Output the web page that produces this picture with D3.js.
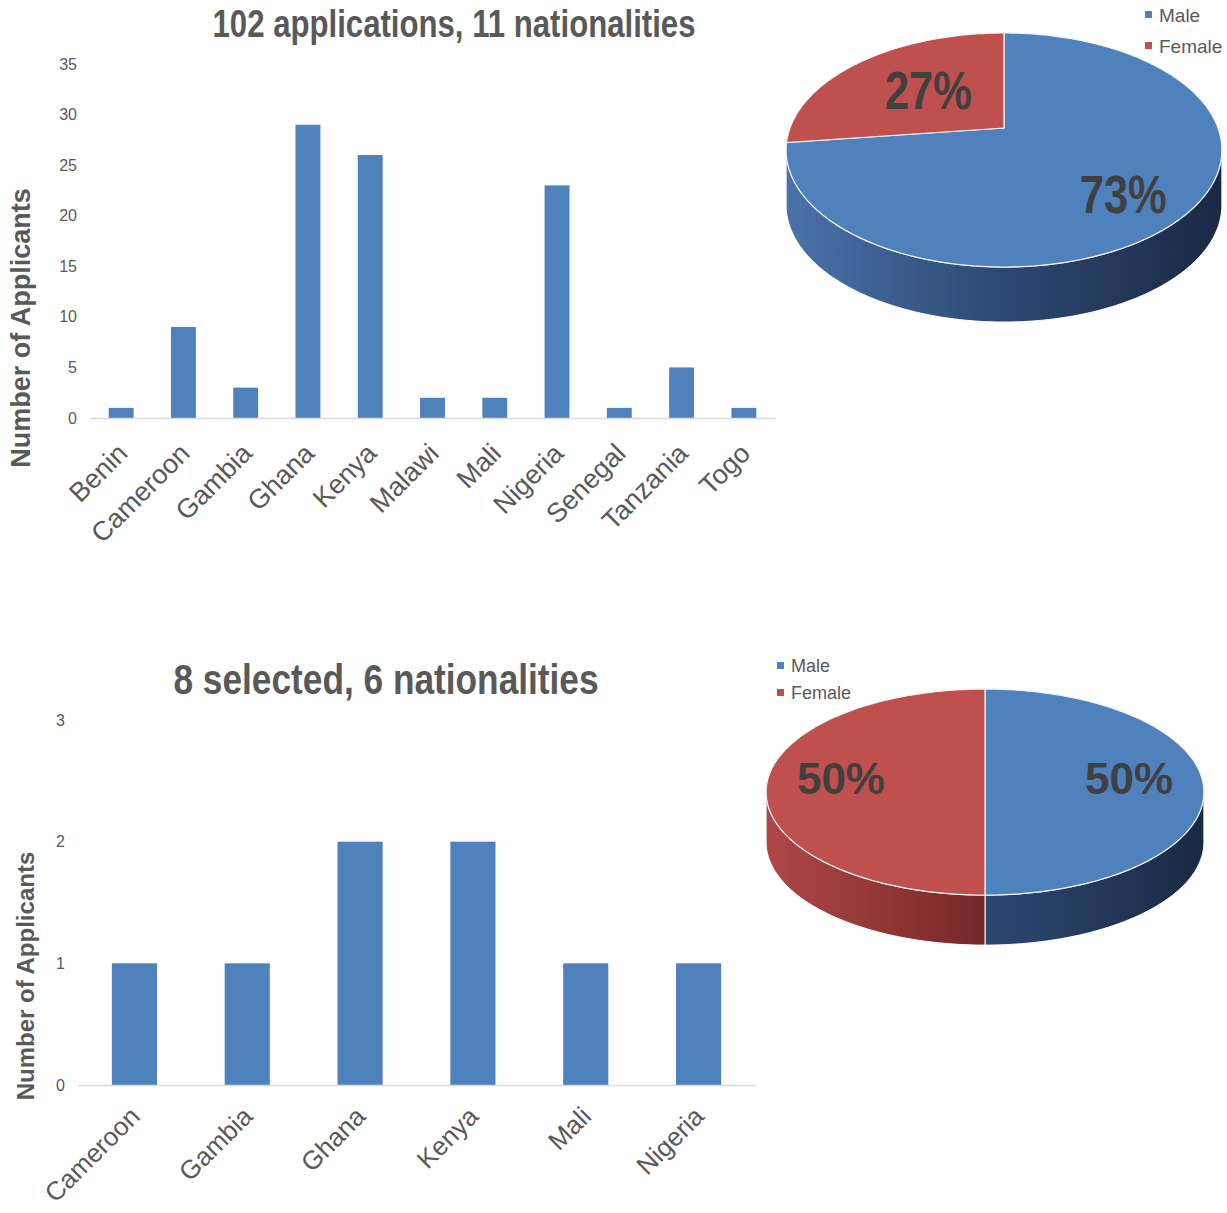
<!DOCTYPE html>
<html>
<head>
<meta charset="utf-8">
<script src="https://cdn.jsdelivr.net/npm/d3@7"></script>
<style>
body { margin: 0; background: #fff; }
svg text { font-family: "Liberation Sans", Arial, sans-serif; }
</style>
</head>
<body>
<div id="chart-area"></div>
<script>
// data
var topCountries = ["Benin", "Cameroon", "Gambia", "Ghana", "Kenya", "Malawi", "Mali", "Nigeria", "Senegal", "Tanzania", "Togo"];
var topCounts = [1, 9, 3, 29, 26, 2, 2, 23, 1, 5, 1];
var topTicks = [0, 5, 10, 15, 20, 25, 30, 35];

var bottomCountries = ["Cameroon", "Gambia", "Ghana", "Kenya", "Mali", "Nigeria"];
var bottomCounts = [1, 1, 2, 2, 1, 1];
var bottomTicks = [0, 1, 2, 3];

var genders = ["Male", "Female"];
var topShares = [73, 27];
var bottomShares = [50, 50];

var barColor = "#4f81bd";
var sliceColors = ["#4f81bd", "#c0504d"];
var sideStops = [
    [["0", "#4a72aa"], ["0.5", "#2c4872"], ["1", "#1a2944"]],
    [["0", "#b04747"], ["0.5", "#752828"], ["1", "#5a1c1c"]]
];
var narrowScale = 0.82; // no Arial Narrow here, so squeeze Liberation Sans

var svg = d3.select("#chart-area").append("svg")
    .attr("width", 1227)
    .attr("height", 1213);
var defs = svg.append("defs");

// condensed text placed at x,y
function narrowText(sel, x, y) {
    return sel.append("text")
        .attr("transform", "translate(" + x + "," + y + ") scale(" + narrowScale + ",1)");
}

function barChart(o) {
    var g = svg.append("g");
    var x = d3.scaleBand().domain(o.cats).range([o.x0, o.x1])
        .paddingInner(0.6).paddingOuter(0.3);
    var y = d3.scaleLinear().domain([0, d3.max(o.ticks)]).range([o.y0, o.y1]);

    // Title
    narrowText(g, o.titleX, o.titleY)
        .attr("font-size", o.titleSize)
        .attr("font-weight", "bold")
        .attr("text-anchor", "middle")
        .style("fill", "#595959")
        .text(o.title);

    // Y ticks, no axis line
    var yAxis = g.append("g")
        .attr("transform", "translate(" + o.tickX + ",0)")
        .call(d3.axisLeft(y).tickValues(o.ticks).tickFormat(d3.format("d")).tickSize(0).tickPadding(0));
    yAxis.select(".domain").remove();
    yAxis.selectAll("text")
        .attr("font-size", 16)
        .style("fill", "#595959");

    // Bars
    g.selectAll("rect.bar")
        .data(o.values)
        .enter().append("rect")
        .attr("class", "bar")
        .attr("x", (d, i) => x(o.cats[i]))
        .attr("y", (d) => y(d))
        .attr("width", x.bandwidth())
        .attr("height", (d) => y(0) - y(d))
        .attr("fill", barColor);

    // X axis
    var xAxis = g.append("g")
        .attr("transform", "translate(0," + o.y0 + ")")
        .call(d3.axisBottom(x).tickSize(0).tickSizeOuter(0));
    xAxis.select(".domain").attr("stroke", "#d9d9d9").attr("stroke-width", 1.5);
    xAxis.selectAll("text")
        .attr("x", 0).attr("y", 0).attr("dy", 0)
        .attr("text-anchor", "end")
        .attr("transform", "translate(" + o.labelShift + ") rotate(-45)")
        .attr("font-size", o.labelSize)
        .style("fill", "#595959");

    // Y label
    g.append("text")
        .attr("transform", "translate(" + o.yTitleX + "," + o.yTitleY + ") rotate(-90)")
        .attr("font-size", o.yTitleSize)
        .attr("font-weight", "bold")
        .attr("text-anchor", "middle")
        .style("fill", "#595959")
        .text("Number of Applicants");
}

function pie3d(o) {
    var g = svg.append("g");
    var k = 0.188;
    var arcs = d3.pie().sort(null)(o.values);
    var line = d3.line();

    function proj(ang, r) {
        var u = r * Math.sin(ang), v = -r * Math.cos(ang), s = 1 / (1 - k * v);
        return [o.cx + o.rx * u * s, o.cy + o.ry * v * s];
    }
    function rim(a0, a1) {
        var n = Math.max(2, Math.ceil((a1 - a0) / 0.02));
        return d3.range(n + 1).map((i) => proj(a0 + (a1 - a0) * i / n, 1));
    }

    // side gradients
    sliceColors.forEach((c, i) => {
        var grad = defs.append("linearGradient")
            .attr("id", o.id + "-side" + i)
            .attr("gradientUnits", "userSpaceOnUse")
            .attr("x1", o.cx - o.rx * 1.02).attr("x2", o.cx + o.rx * 1.02)
            .attr("y1", 0).attr("y2", 0);
        sideStops[i].forEach((s) => {
            grad.append("stop").attr("offset", s[0]).attr("stop-color", s[1]);
        });
    });

    // Side walls (front half only)
    var vis0 = Math.PI / 2 + Math.asin(k), vis1 = 3 * Math.PI / 2 - Math.asin(k);
    arcs.forEach((d, i) => {
        var a0 = Math.max(d.startAngle, vis0), a1 = Math.min(d.endAngle, vis1);
        if (a1 <= a0) return;
        var pts = rim(a0, a1);
        var low = pts.map((p) => [p[0], p[1] + o.depth]).reverse();
        g.append("path")
            .attr("d", line(pts.concat(low)) + "Z")
            .attr("fill", "url(#" + o.id + "-side" + i + ")")
            .attr("stroke", "#fff")
            .attr("stroke-width", 1);
    });

    // Top face
    arcs.forEach((d, i) => {
        var pts = [proj(0, 0)].concat(rim(d.startAngle, d.endAngle));
        g.append("path")
            .attr("d", line(pts) + "Z")
            .attr("fill", sliceColors[i])
            .attr("stroke", "#f2f2f2")
            .attr("stroke-width", 1.2);
    });

    // Percent labels
    arcs.forEach((d, i) => {
        var p = proj((d.startAngle + d.endAngle) / 2, o.labelR[i]);
        var t = o.narrow ? narrowText(g, p[0], p[1] + o.labelDy[i])
            : g.append("text").attr("x", p[0]).attr("y", p[1] + o.labelDy[i]);
        t.attr("dy", "0.36em")
            .attr("font-size", o.labelSize)
            .attr("font-weight", "bold")
            .attr("text-anchor", "middle")
            .style("fill", "#404040")
            .text(d.data + "%");
    });

    // Legend
    var legend = g.append("g")
        .attr("transform", "translate(" + o.legendX + "," + o.legendY + ")");
    genders.forEach((name, i) => {
        var row = legend.append("g")
            .attr("transform", "translate(0, " + (i * o.legendGap) + ")");
        row.append("rect")
            .attr("x", 0).attr("y", -4)
            .attr("width", 7).attr("height", 7)
            .attr("fill", sliceColors[i]);
        row.append("text")
            .attr("x", 14)
            .attr("y", 0)
            .attr("dy", "0.35em")
            .attr("font-size", o.legendSize)
            .style("fill", "#595959")
            .text(name);
    });
}

barChart({
    cats: topCountries, values: topCounts, ticks: topTicks,
    x0: 90, x1: 775, y0: 418, y1: 64, tickX: 77,
    labelShift: "8,37", labelSize: 27,
    title: "102 applications, 11 nationalities", titleX: 454, titleY: 37, titleSize: 38,
    yTitleX: 30, yTitleY: 328, yTitleSize: 27
});

barChart({
    cats: bottomCountries, values: bottomCounts, ticks: bottomTicks,
    x0: 78, x1: 755, y0: 1085, y1: 720, tickX: 65,
    labelShift: "7,33", labelSize: 26,
    title: "8 selected, 6 nationalities", titleX: 386, titleY: 694, titleSize: 43,
    yTitleX: 34, yTitleY: 976, yTitleSize: 24
});

pie3d({
    id: "pieTop", values: topShares,
    cx: 1004, cy: 128, rx: 214, ry: 112.9, depth: 55,
    labelR: [0.68, 0.5], labelDx: [0, 0], labelDy: [10, -3], labelSize: 53, narrow: true,
    legendX: 1145, legendY: 15, legendGap: 31, legendSize: 19
});

pie3d({
    id: "pieBottom", values: bottomShares,
    cx: 985, cy: 772.7, rx: 215, ry: 99.4, depth: 50,
    labelR: [0.67, 0.67], labelDx: [0, 0], labelDy: [5, 5], labelSize: 44, narrow: false,
    legendX: 777, legendY: 666, legendGap: 27, legendSize: 18
});
</script>
</body>
</html>
